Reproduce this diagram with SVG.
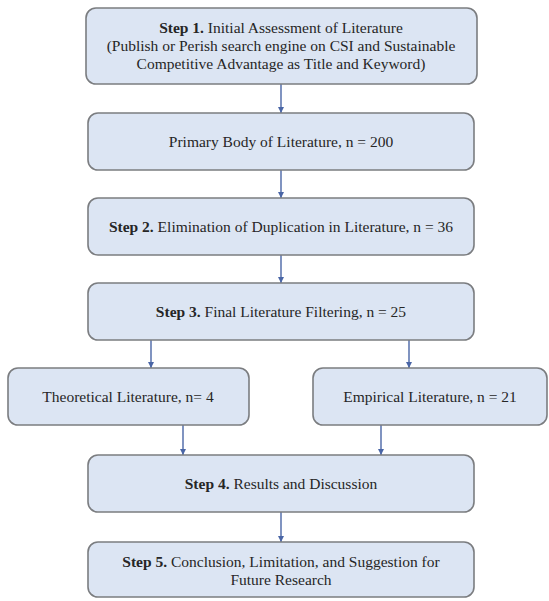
<svg xmlns="http://www.w3.org/2000/svg" width="549" height="601" viewBox="0 0 549 601">
<defs>
<marker id="ah" viewBox="0 0 10 10" refX="10" refY="5" markerWidth="6" markerHeight="6" markerUnits="userSpaceOnUse" orient="auto">
<path d="M0,0 L10,5 L0,10 z" fill="#4a66a6"/>
</marker>
<style>
.box{fill:#dce5f3;stroke:#7b7d80;stroke-width:1.6}
.t{font-family:"Liberation Serif","Times New Roman",serif;font-size:15.5px;fill:#262626;text-anchor:middle}
.b{font-weight:bold}
.c{stroke:#4a66a6;stroke-width:1.4;fill:none;marker-end:url(#ah)}
</style>
</defs>
<rect width="549" height="601" fill="#ffffff"/>
<g id="connectors">
<line class="c" x1="281" y1="84" x2="281" y2="113"/>
<line class="c" x1="281" y1="170" x2="281" y2="198"/>
<line class="c" x1="281" y1="255" x2="281" y2="283"/>
<line class="c" x1="151" y1="340" x2="151" y2="368"/>
<line class="c" x1="409" y1="340" x2="409" y2="368"/>
<line class="c" x1="183" y1="425" x2="183" y2="455"/>
<line class="c" x1="381" y1="425" x2="381" y2="455"/>
<line class="c" x1="281" y1="512" x2="281" y2="542"/>
</g>
<g id="step1">
<rect class="box" x="86" y="8" width="391" height="76" rx="10"/>
<text class="t" x="281" y="33"><tspan class="b">Step 1.</tspan> Initial Assessment of Literature</text>
<text class="t" x="281" y="51">(Publish or Perish search engine on CSI and Sustainable</text>
<text class="t" x="281" y="69">Competitive Advantage as Title and Keyword)</text>
</g>
<g id="primary">
<rect class="box" x="88" y="113" width="386" height="57" rx="10"/>
<text class="t" x="281" y="147">Primary Body of Literature, n = 200</text>
</g>
<g id="step2">
<rect class="box" x="88" y="198" width="386" height="57" rx="10"/>
<text class="t" x="281" y="232"><tspan class="b">Step 2.</tspan> Elimination of Duplication in Literature, n = 36</text>
</g>
<g id="step3">
<rect class="box" x="88" y="283" width="386" height="57" rx="10"/>
<text class="t" x="281" y="317"><tspan class="b">Step 3.</tspan> Final Literature Filtering, n = 25</text>
</g>
<g id="theoretical">
<rect class="box" x="8" y="368" width="241" height="57" rx="10"/>
<text class="t" x="128" y="402">Theoretical Literature, n= 4</text>
</g>
<g id="empirical">
<rect class="box" x="313" y="368" width="234" height="57" rx="10"/>
<text class="t" x="430" y="402">Empirical Literature, n = 21</text>
</g>
<g id="step4">
<rect class="box" x="88" y="455" width="386" height="57" rx="10"/>
<text class="t" x="281" y="489"><tspan class="b">Step 4.</tspan> Results and Discussion</text>
</g>
<g id="step5">
<rect class="box" x="88" y="542" width="386" height="55" rx="10"/>
<text class="t" x="281" y="567"><tspan class="b">Step 5.</tspan> Conclusion, Limitation, and Suggestion for</text>
<text class="t" x="281" y="585">Future Research</text>
</g>
</svg>
